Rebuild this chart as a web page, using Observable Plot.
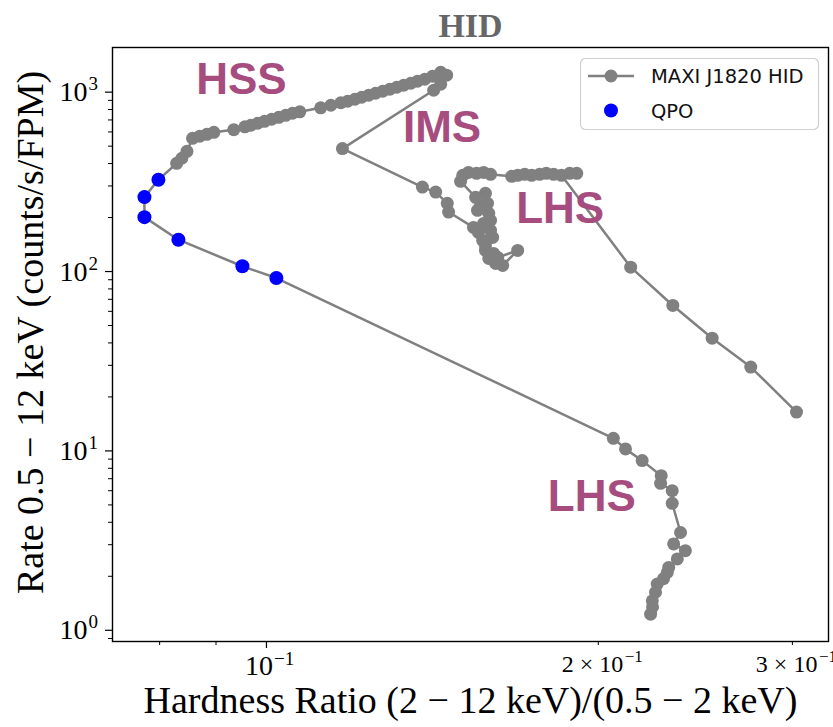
<!DOCTYPE html>
<html>
<head>
<meta charset="utf-8">
<script src="https://cdn.jsdelivr.net/npm/d3@7"></script>
<script src="https://cdn.jsdelivr.net/npm/@observablehq/plot@0.6"></script>
<style>
  body { margin: 0; background: #fff; }
  #wrap { position: relative; width: 833px; height: 727px; }
  #legend { position: absolute; left: 580px; top: 58px; }
</style>
</head>
<body>
<div id="wrap">
  <div id="chart"></div>
  <svg id="legend" width="240" height="73">
    <rect x="0.5" y="0.5" width="238" height="71" rx="5" fill="rgba(255,255,255,0.8)" stroke="#d0d0d0" stroke-width="1.2"></rect>
    <line x1="8" x2="54" y1="18" y2="18" stroke="#808080" stroke-width="2.5"></line>
    <circle cx="31" cy="18" r="6.5" fill="#808080"></circle>
    <circle cx="31" cy="52.5" r="7" fill="#0000ff"></circle>
    <text x="71" y="25" font-family="DejaVu Sans" font-size="19.5" fill="#111">MAXI J1820 HID</text>
    <text x="71" y="59.5" font-family="DejaVu Sans" font-size="19.5" fill="#111">QPO</text>
  </svg>
</div>
<script>
// MAXI J1820+070 hardness–intensity track, in time order
const hr = [
  0.3026, 0.275, 0.2537, 0.2337, 0.2140,
  0.1852, 0.1884, 0.1912, 0.1822, 0.1794, 0.1769, 0.1740, 0.1715, 0.1690, 0.1669,
  0.1597, 0.1574, 0.1551, 0.1525, 0.1507, 0.1500,
  0.1548, 0.1580, 0.1587, 0.1564, 0.1554, 0.1591, 0.1597, 0.1574, 0.1557, 0.1597,
  0.1571, 0.1604, 0.1580, 0.1607, 0.1591, 0.1614, 0.1638, 0.1690, 0.1621, 0.1580, 0.1541,
  0.1463, 0.1459, 0.1424, 0.1385, 0.1172,
  0.1418, 0.1439, 0.1457, 0.1439, 0.1415, 0.1392, 0.1371, 0.1352, 0.1332, 0.1313,
  0.1294, 0.1275, 0.1256, 0.1238, 0.1220, 0.1203, 0.1185, 0.1168, 0.1144, 0.1120,
  0.1072, 0.1056, 0.1041, 0.1026, 0.1011, 0.0996, 0.0982, 0.0968, 0.0956, 0.0934,
  0.0896, 0.0883, 0.0870, 0.0857, 0.0847, 0.0838, 0.0829,
  0.0798, 0.0775, 0.0775, 0.0832, 0.0951, 0.1021,
  0.2064, 0.2117, 0.2192, 0.2281, 0.2278, 0.2334, 0.2334, 0.2375, 0.2341, 0.2399,
  0.2359, 0.2317, 0.2310, 0.2292, 0.2262, 0.2254, 0.2239, 0.2240, 0.2231
];
const rate = [
  16.47, 29.35, 42.5, 64.7, 105.8,
  343.9, 352.7, 352.7, 348.3, 352.7, 348.3, 343.9, 348.3, 343.9, 339.5,
  348.3, 357, 352.7, 357, 343.9, 318.3,
  259.2, 272.8, 239.9, 233.8, 219.3, 211, 192.9, 185.5, 165.3, 169.6,
  149.1, 155, 131.2, 126.2, 118.3, 111, 108.1, 131.2, 119.8, 139.9, 176.2,
  214.6, 239.9, 277.4, 295.8, 484.5,
  1025, 1107, 1243, 1291, 1227, 1180, 1150, 1121, 1093, 1065,
  1038, 1012, 986, 961, 937, 913, 890, 873, 845, 818,
  777, 763, 743, 724, 706, 688, 671, 654, 641, 618,
  597, 582, 568, 553, 468, 428, 401,
  325, 260, 201, 150.5, 107, 92,
  11.76, 10.26, 8.83, 7.28, 6.60, 6.00, 5.10, 3.51, 3.03, 2.78,
  2.50, 2.24, 2.10, 1.94, 1.81, 1.63, 1.46, 1.35, 1.23
];

// observations with a detected QPO
const qpoHr = [0.0798, 0.0775, 0.0775, 0.0832, 0.0951, 0.1021];
const qpoRate = [325, 260, 201, 150.5, 107, 92];

// spectral-state annotations
const stateNames = ["HSS", "IMS", "LHS", "LHS"];
const stateHr = [0.0949, 0.1443, 0.1847, 0.1973];
const stateRate = [1170, 632, 224, 5.57];

// axis ticks
const xMajorTicks = [0.1];
const xMinorTicks = [0.08, 0.09, 0.2, 0.3];
const xMinorLabelTicks = [0.2, 0.3];
const xMinorMantissa = ["2", "3"];
const yMajorTicks = [1, 10, 100, 1000];
const yExponents = ["0", "1", "2", "3"];
const yMinorTicks = [0.9, 2, 3, 4, 5, 6, 7, 8, 9, 20, 30, 40, 50, 60, 70, 80, 90,
  200, 300, 400, 500, 600, 700, 800, 900];

const xTitle = "Hardness Ratio (2 − 12 keV)/(0.5 − 2 keV)";
const yTitle = "Rate 0.5 − 12 keV (counts/s/FPM)";
const title = "HID";

const points = hr.map((h, i) => ({hr: h, rate: rate[i]}));
const qpo = qpoHr.map((h, i) => ({hr: h, rate: qpoRate[i]}));
const states = stateNames.map((n, i) => ({name: n, hr: stateHr[i], rate: stateRate[i]}));

const serif = "'Liberation Serif', 'DejaVu Serif', serif";

const chart = Plot.plot({
  width: 833,
  height: 727,
  marginLeft: 112,
  marginRight: 5,
  marginTop: 47,
  marginBottom: 86,
  style: {background: "white", fontFamily: serif, color: "black"},
  x: {type: "log", domain: [0.0725, 0.3235], axis: null},
  y: {type: "log", domain: [0.866, 1774], axis: null},
  marks: [
    // ticks
    Plot.axisX(xMajorTicks, {tickSize: 7, tickFormat: () => "", label: null, strokeWidth: 1.2}),
    Plot.axisX(xMinorTicks, {tickSize: 4, tickFormat: () => "", label: null, strokeWidth: 1}),
    Plot.axisY(yMajorTicks, {tickSize: 7, tickFormat: () => "", label: null, strokeWidth: 1.2}),
    Plot.axisY(yMinorTicks, {tickSize: 4, tickFormat: () => "", label: null, strokeWidth: 1}),
    // x tick labels with superscript exponents
    Plot.text(xMajorTicks, {x: d => d, frameAnchor: "bottom", lineAnchor: "top", text: () => "10",
      textAnchor: "end", dx: 6.5, dy: 14, fontSize: 28}),
    Plot.text(xMajorTicks, {x: d => d, frameAnchor: "bottom", lineAnchor: "top", text: () => "−1",
      textAnchor: "start", dx: 7.5, dy: 9.5, fontSize: 19}),
    Plot.text(xMinorLabelTicks, {x: d => d, frameAnchor: "bottom", lineAnchor: "top",
      text: (d, i) => `${xMinorMantissa[i]} × 10`, textAnchor: "end", dx: 25, dy: 13, fontSize: 24}),
    Plot.text(xMinorLabelTicks, {x: d => d, frameAnchor: "bottom", lineAnchor: "top", text: () => "−1",
      textAnchor: "start", dx: 26.5, dy: 8.5, fontSize: 17}),
    // y tick labels
    Plot.text(yMajorTicks, {y: d => d, frameAnchor: "left", text: () => "10",
      textAnchor: "end", dx: -25, fontSize: 28}),
    Plot.text(yMajorTicks, {y: d => d, frameAnchor: "left", text: (d, i) => yExponents[i],
      textAnchor: "start", dx: -24, dy: -8, fontSize: 19}),
    // axis titles and chart title
    Plot.text([xTitle], {text: d => d, frameAnchor: "bottom", lineAnchor: "top", textAnchor: "middle",
      dy: 45, fontSize: 38}),
    Plot.text([yTitle], {text: d => d, frameAnchor: "left", rotate: -90, textAnchor: "middle",
      lineAnchor: "middle", dx: -82, dy: -12, fontSize: 38}),
    Plot.text([title], {text: d => d, frameAnchor: "top", lineAnchor: "middle", textAnchor: "middle",
      dy: -21, fontSize: 34, fontWeight: "bold", fill: "#666"}),
    // track
    Plot.line(points, {x: "hr", y: "rate", stroke: "#808080", strokeWidth: 2.5}),
    Plot.dot(points, {x: "hr", y: "rate", r: 6.5, fill: "#808080"}),
    Plot.dot(qpo, {x: "hr", y: "rate", r: 7, fill: "#0000ff"}),
    // state labels
    Plot.text(states, {x: "hr", y: "rate", text: "name", fill: "#a64c7e",
      fontFamily: "'Liberation Sans', Arial, sans-serif", fontWeight: "bold", fontSize: 44}),
    Plot.frame({stroke: "black", strokeWidth: 1.4})
  ]
});

document.getElementById("chart").appendChild(chart);
</script>
</body>
</html>
